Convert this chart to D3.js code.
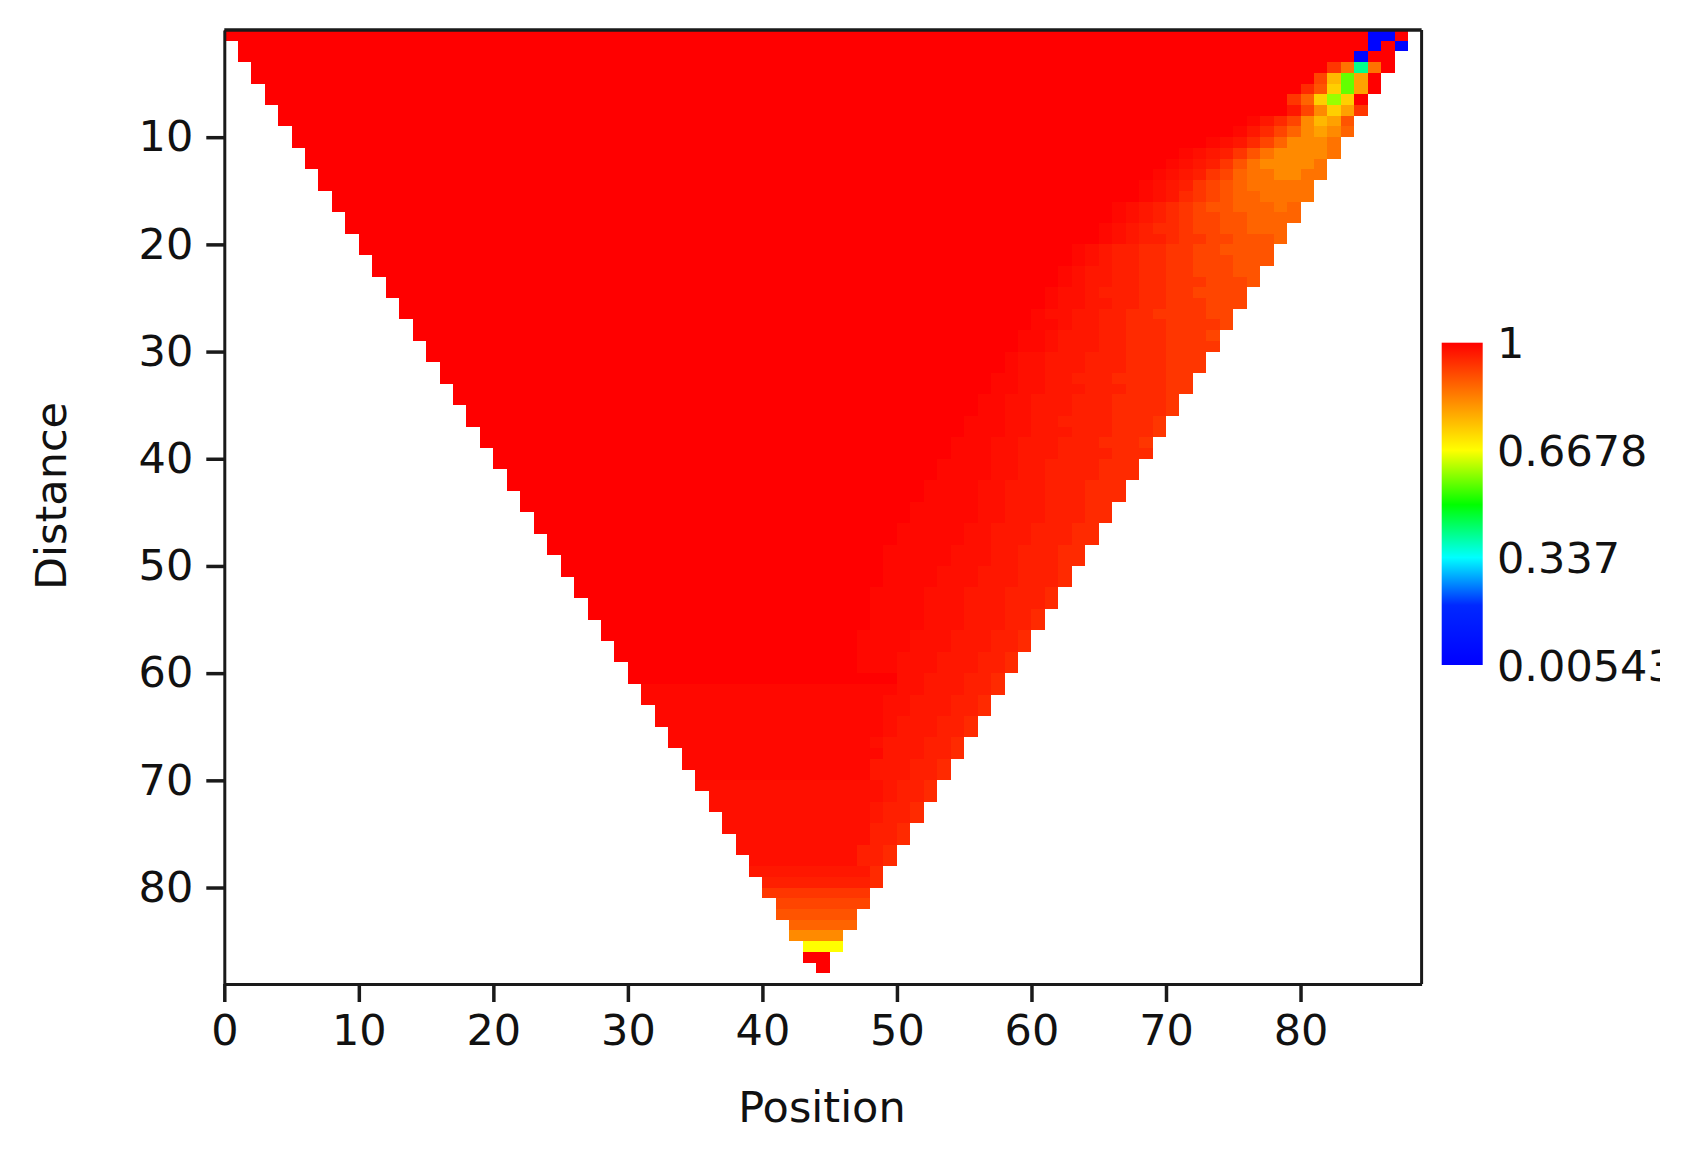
<!DOCTYPE html>
<html><head><meta charset="utf-8">
<script src="https://cdn.jsdelivr.net/npm/d3@7"></script>
<style>
body{margin:0;background:#fff}
svg{display:block}
text{font-family:"DejaVu Sans",Verdana,sans-serif;fill:#111}
</style>
</head><body><svg id="chart" width="1660" height="1157"></svg>
<script>
// ---- data ----
const xTicks = [0,10,20,30,40,50,60,70,80];
const yTicks = [10,20,30,40,50,60,70,80];
const axisExtent = 89;
const nDistances = 88;
const colorTicks = [0.00543, 0.337, 0.6678, 1];
const colorTickLabels = ["0.00543","0.337","0.6678","1"];
const colorStops = [0.00543, 0.19, 0.337, 0.5, 0.6678, 1];
const colorStopColors = ["#0000ff","#0028ff","#00ffff","#00ff00","#ffff00","#ff0000"];
// value levels used to encode cells
const levelCodes  = "0123456789abcdefghijk";
const levelValues = [1, 0.99, 0.98, 0.97, 0.96, 0.945, 0.93, 0.91, 0.89, 0.87, 0.85, 0.82, 0.79, 0.76, 0.73, 0.70, 0.668, 0.60, 0.565, 0.41, 0.03];
// default level of each distance row (row 0 .. 87)
const rowBase = "0000000000000000000000000000000000000000000000000000000000000" + "111111111" + "22222222" + "34" + "6789bg00";
// levels of each row read from the right edge inward
const rowEdge = [
 "0kk","k0k","00k","0aja6","0cid7","0cie85","0ehe96","6ceb73","8cdb7531","9bcb97531",
 "abbb975321","abbbba864321","abbbba864321","aabbaa9764321","aaaaa98764321","aaaa998765321","9a999887654321","99998877654321","99988776554321","98887766544321",
 "888877665544321","888777665544321","887776655443321","877766655443321","777766554443221","777666554433221","776666554433221","766665554433211","766655544333211","666655544333211",
 "666555444333221","666555444333221","665555444332211","665554443332211","655554443332211","655554443332211","655544443322111","655544433322111","655544433322111","555444433322111",
 "555444433221111","555444433221111","555444333221111","555444333221111","554443332211111","554443332211111","554443332211111","554443332211111","554443322211111","554443322211111",
 "54443332221111","54443332221111","54443332221111","54443332221111","5443332221111","5443332221111","5443332221111","5443332221111","544333222111","544333222111",
 "54433322","54433322","54433322","54433322","5443332","5443332","5443332","544333","544333","544333",
 "5443","5443","5443","5443","544","544","544","544","5","5",
 "","","","","","","",""
];

// ---- chart ----
const svg = d3.select("#chart");
const x = d3.scaleLinear().domain([0, axisExtent]).range([224.3, 1421.6]);
const y = d3.scaleLinear().domain([0, axisExtent]).range([30, 984]);
const color = d3.scaleLinear().domain(colorStops).range(colorStopColors).clamp(true);

const cells = [];
for (let r = 0; r < nDistances; r++) {
  const start = Math.ceil(r/2), end = nDistances - 1 - Math.floor(r/2);
  for (let c = end; c >= start; c--) {
    const k = end - c;
    const code = k < rowEdge[r].length ? rowEdge[r][k] : rowBase[r];
    cells.push({pos: c, dist: r, value: levelValues[levelCodes.indexOf(code)]});
  }
}

svg.append("g").selectAll("rect").data(cells).join("rect")
  .attr("x", d => x(d.pos))
  .attr("y", d => y(d.dist))
  .attr("width", d => x(d.pos + 1) - x(d.pos))
  .attr("height", d => y(d.dist + 1) - y(d.dist))
  .attr("fill", d => color(d.value))
  .attr("shape-rendering", "crispEdges");

// frame + axes
const axisColor = "#1a1a1a";
const xAxis = svg.append("g").attr("transform", `translate(0,${y(axisExtent)})`)
  .call(d3.axisBottom(x).tickValues(xTicks).tickSize(18).tickSizeOuter(0).tickPadding(12).tickFormat(d3.format("d")));
const yAxis = svg.append("g").attr("transform", `translate(${x(0)},0)`)
  .call(d3.axisLeft(y).tickValues(yTicks).tickSize(18).tickSizeOuter(0).tickPadding(13).tickFormat(d3.format("d")));
[xAxis, yAxis].forEach(g => {
  g.select(".domain").attr("stroke", axisColor).attr("stroke-width", 3);
  g.selectAll(".tick line").attr("stroke", axisColor).attr("stroke-width", 3.5);
  g.selectAll(".tick text").attr("font-size", 43).attr("fill", "#111")
    .style("font-family", '"DejaVu Sans",Verdana,sans-serif');
});
svg.append("line").attr("x1", x(0)).attr("x2", x(axisExtent)).attr("y1", y(0)).attr("y2", y(0))
  .attr("stroke", axisColor).attr("stroke-width", 3.5);
svg.append("line").attr("x1", x(axisExtent)).attr("x2", x(axisExtent)).attr("y1", y(0)).attr("y2", y(axisExtent))
  .attr("stroke", axisColor).attr("stroke-width", 3);

// axis titles
svg.append("text").attr("x", (x(0)+x(axisExtent))/2 - 1).attr("y", 1122)
  .attr("text-anchor", "middle").attr("font-size", 43).text("Position");
svg.append("text").attr("transform", "translate(66,496) rotate(-90)")
  .attr("text-anchor", "middle").attr("font-size", 43).text("Distance");

// colorbar
const cb = d3.scaleLinear().domain([colorTicks[0], colorTicks[colorTicks.length-1]]).range([665, 342.7]);
const defs = svg.append("defs");
const grad = defs.append("linearGradient").attr("id", "cbgrad")
  .attr("x1", 0).attr("y1", 1).attr("x2", 0).attr("y2", 0);
const [v0, v1] = cb.domain();
colorStops.forEach((s, i) => {
  grad.append("stop").attr("offset", (s - v0)/(v1 - v0)).attr("stop-color", colorStopColors[i]);
});
svg.append("rect").attr("x", 1441.7).attr("y", cb(v1)).attr("width", 41).attr("height", cb(v0) - cb(v1))
  .attr("fill", "url(#cbgrad)");
svg.append("g").selectAll("text").data(colorTicks).join("text")
  .attr("x", 1497).attr("y", d => cb(d) + 15.5)
  .attr("font-size", 43).text((d, i) => colorTickLabels[i]);
</script>
</body></html>
